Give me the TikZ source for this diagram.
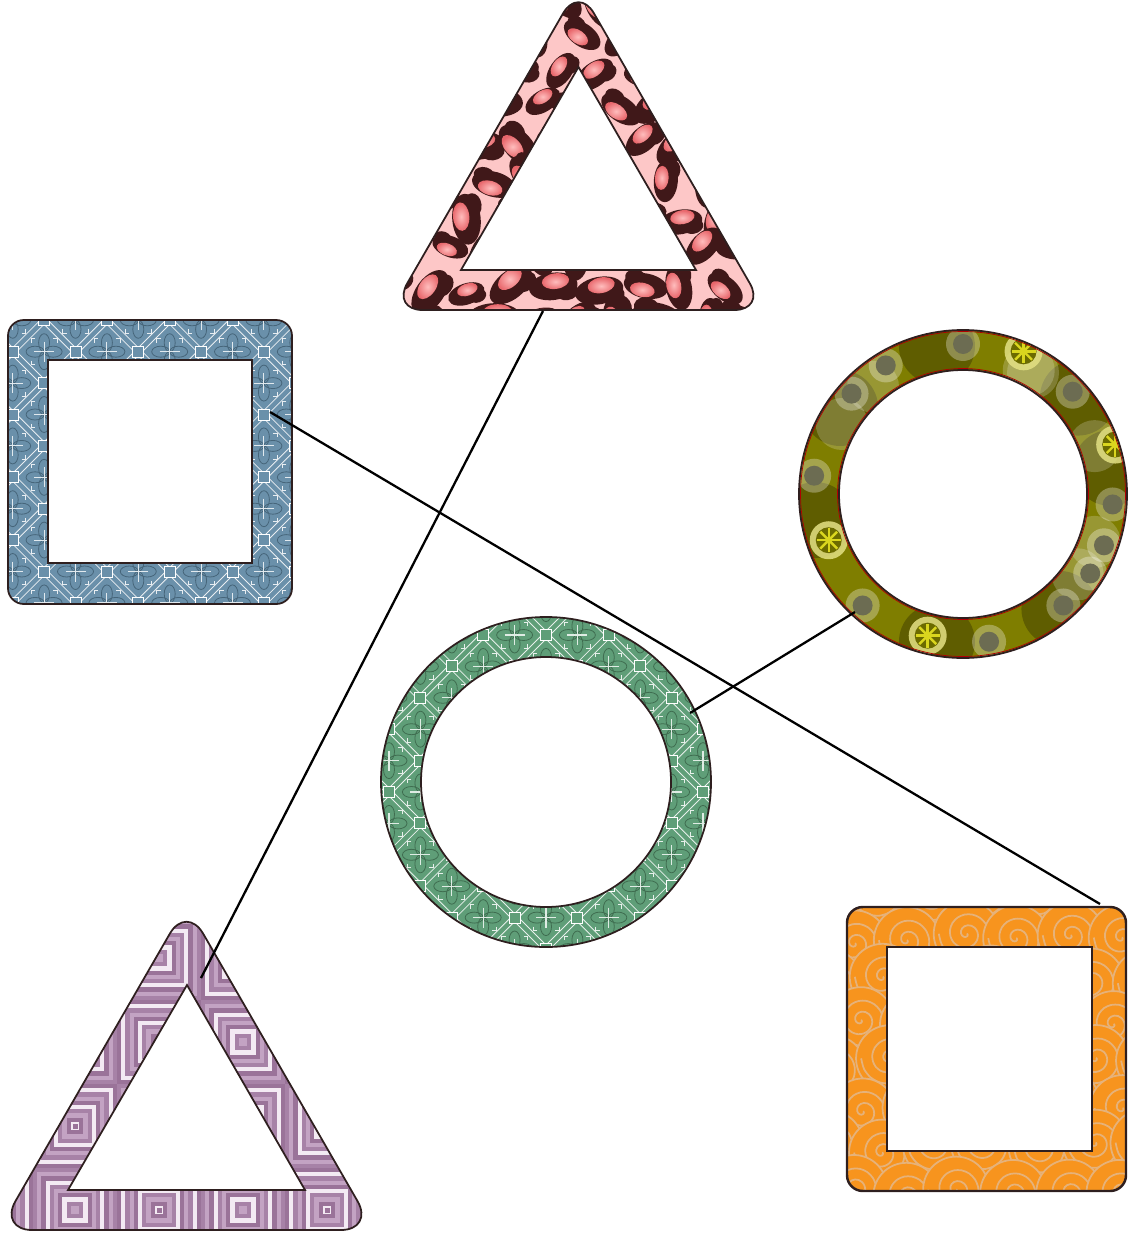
\documentclass[tikz,border=0pt]{standalone}
\usepackage{xcolor}
\usepackage{tikz}
\usetikzlibrary{positioning}

\definecolor{leopink}{HTML}{FDC7C7}
\definecolor{leodark}{HTML}{401819}
\definecolor{leored}{HTML}{E8666B}
\definecolor{leolight}{HTML}{FFBDBD}
\definecolor{slatebase}{HTML}{6A90AA}
\definecolor{slatedark}{HTML}{46657A}
\definecolor{jadebase}{HTML}{5F9E78}
\definecolor{jadedark}{HTML}{3F6D50}
\definecolor{olivebase}{HTML}{7F7E00}
\definecolor{olivedark}{HTML}{5F5D00}
\definecolor{olivegray}{HTML}{6C6C52}
\definecolor{wheelpale}{HTML}{E4E184}
\definecolor{wheelyel}{HTML}{DAD61E}
\definecolor{amberbase}{HTML}{F7941E}
\definecolor{ambercurl}{HTML}{E6B27A}
\definecolor{lilacmid}{HTML}{A782A7}
\definecolor{lilaclight}{HTML}{C3A3C3}
\definecolor{lilacdeep}{HTML}{9A7399}
\definecolor{lilacpale}{HTML}{F3EAF3}
\definecolor{rimline}{HTML}{2E1F1F}

% outlines of the six frames (pixel units, y down)
\def\leoouter{(485.2,148.3) -- (578.5,-13.4) -- (765.2,310) -- (391.8,310) -- cycle}
\def\leoinner{(578.5,67) -- (696,270) -- (461,270) -- cycle}
\def\lilacouter{(92.6,1067.4) -- (186.5,904.8) -- (374.2,1230) -- (-1.2,1230) -- cycle}
\def\lilacinner{(187,985) -- (305,1190) -- (68,1190) -- cycle}
\def\slateouter{(8,320) rectangle (292,604)}
\def\slateinner{(48,360) rectangle (252,563)}
\def\amberouter{(847,907) rectangle (1126,1191)}
\def\amberinner{(887,947) rectangle (1092,1151)}

\newcommand{\tilework}[6]{%
  \foreach \k in {-12,...,12}{
    \foreach \o in {-4,4}{
      \draw[white!85!tilebase, line width=0.45pt]
        ({#1+62.8*\k+\o-420},{#2-420}) -- ({#1+62.8*\k+\o+420},{#2+420})
        ({#1+62.8*\k+\o-420},{#2+420}) -- ({#1+62.8*\k+\o+420},{#2-420});
    }
  }
  \foreach \i in {#3,...,#4}{
    \foreach \j in {#5,...,#6}{
      \pgfmathsetmacro\tx{#1+31.4*\i}
      \pgfmathsetmacro\ty{#2+31.4*\j}
      \pgfmathtruncatemacro\pty{mod(\i+\j+100,2)}
      \ifnum\pty=1
        \begin{scope}[shift={(\tx,\ty)}]
          \draw[tiledark, line width=0.45pt] (9,0) ellipse [x radius=9, y radius=5.5] (-9,0) ellipse [x radius=9, y radius=5.5]
            (0,9) ellipse [x radius=5.5, y radius=9] (0,-9) ellipse [x radius=5.5, y radius=9];
          \draw[white!80!tilebase, line width=0.6pt] (-10,0) -- (10,0) (0,-10) -- (0,10);
          \foreach \r in {0,90,180,270}{
            \draw[white!85!tilebase, line width=0.4pt, rotate=\r] (9,13) -- (13,13) -- (13,9);
          }
        \end{scope}
      \else
        \draw[white, fill=tilebase, line width=0.5pt] ({\tx-5.5},{\ty-5.5}) rectangle ({\tx+5.5},{\ty+5.5});
      \fi
    }
  }
}

\newcommand{\greyspot}[2]{\begin{scope}[shift={(963,494)}, shift={(#1:#2)}]
  \fill[white, opacity=0.3] (0,0) circle [radius=17];
  \fill[olivegray] (0,0) circle [radius=10];
\end{scope}}
\newcommand{\wheel}[2]{\begin{scope}[shift={(963,494)}, shift={(#1:#2)}]
  \fill[wheelpale, opacity=0.85] (0,0) circle [radius=19];
  \fill[olivebase!85!black] (0,0) circle [radius=13];
  \foreach \w in {0,45,...,315}{\draw[wheelyel, line width=1.4pt] (0,0) -- (\w:12);}
  \fill[wheelyel] (0,0) circle [radius=3.5];
\end{scope}}

\begin{document}
\begin{tikzpicture}[x=0.02cm, y=-0.02cm,
    frame/.style={draw=rimline, line width=1pt},
    link/.style={draw=black, line width=1.3pt}]

\useasboundingbox (0,0) rectangle (1127,1233);

% leopard triangle
\begin{scope}
  \clip[rounded corners=17.5pt] \leoouter;
  \fill[leopink] (380,-20) rectangle (780,330);
  \pgfmathsetseed{11}
  \foreach \r in {0,...,9}{
    \foreach \c in {0,...,9}{
      \pgfmathsetmacro\bx{388+42*\c+21*mod(\r,2)+8*rand}
      \pgfmathsetmacro\by{36*\r+7*rand}
      \pgfmathsetmacro\ba{180*rnd}
      \pgfmathsetmacro\bs{0.75+0.35*rnd}
      \begin{scope}[shift={(\bx,\by)}, rotate=\ba, scale=\bs]
        \fill[leodark] (0,0) ellipse [x radius=25, y radius=14] (13,7) ellipse [x radius=12, y radius=9];
        \shade[inner color=leolight, outer color=leored] (3,-5) ellipse [x radius=14, y radius=8];
      \end{scope}
    }
  }
\end{scope}
\fill[white] \leoinner;
\draw[frame, rounded corners=17.5pt] \leoouter;
\draw[frame] \leoinner;

% slate square
\begin{scope}
  \clip[rounded corners=9pt] \slateouter;
  \colorlet{tilebase}{slatebase}\colorlet{tiledark}{slatedark}
  \fill[tilebase] (0,310) rectangle (300,610);
  \tilework{12.7}{351.7}{-1}{10}{-2}{9}
\end{scope}
\fill[white] \slateinner;
\draw[frame, rounded corners=9pt] \slateouter;
\draw[frame] \slateinner;

% olive ring
\begin{scope}
  \clip (963,494) circle [radius=164];
  \fill[olivebase] (790,320) rectangle (1135,670);
  \foreach \a in {-10,50,100,170,215,260,320}{
    \fill[olivedark] (963,494) ++(\a:150) circle [radius=38];
  }
  \foreach \a in {-62,-130,-150,20,35,300,340}{
    \fill[white, opacity=0.2] (963,494) ++(\a:140) circle [radius=26];
  }
  \foreach \a in {-90,-121,-138,-173,-228,-280,-312,-328,-340,-356,-43}{
    \greyspot{\a}{150}
  }
  \wheel{-67}{155}
  \wheel{-199}{142}
  \wheel{-256}{146}
  \wheel{-18}{160}
\end{scope}
\fill[white] (963,494) circle [radius=124];
\draw[red!70!black, line width=0.4pt] (963,494) circle [radius=162.5] (963,494) circle [radius=125.5];
\draw[frame] (963,494) circle [radius=164] (963,494) circle [radius=124];

% jade ring
\begin{scope}
  \clip (546,782) circle [radius=165];
  \colorlet{tilebase}{jadebase}\colorlet{tiledark}{jadedark}
  \fill[tilebase] (370,600) rectangle (720,960);
  \tilework{546}{635}{-6}{6}{-1}{10}
\end{scope}
\fill[white] (546,782) circle [radius=125];
\draw[frame] (546,782) circle [radius=165] (546,782) circle [radius=125];

% amber square
\begin{scope}
  \clip[rounded corners=9pt] \amberouter;
  \fill[amberbase] (840,900) rectangle (1130,1200);
  \pgfmathsetseed{5}
  \foreach \r in {0,...,7}{
    \foreach \c in {0,...,6}{
      \pgfmathsetmacro\sx{832+52*\c+26*mod(\r,2)+6*rand}
      \pgfmathsetmacro\sy{896+42*\r+6*rand}
      \fill[amberbase] (\sx,\sy) circle [radius=33];
      \draw[ambercurl, line width=1pt] (\sx,\sy) circle [radius=33];
      \draw[ambercurl, line width=1pt] plot[smooth, domain=0:900, samples=40, variable=\t]
        ({\sx+0.031*\t*cos(\t)},{\sy+0.031*\t*sin(\t)});
    }
  }
\end{scope}
\fill[white] \amberinner;
\draw[frame, line width=1.4pt, rounded corners=9pt] \amberouter;
\draw[frame, line width=1.4pt] \amberinner;

% lilac triangle
\begin{scope}
  \clip[rounded corners=19pt] \lilacouter;
  \foreach \i in {-1,...,4}{
    \foreach \j in {-1,...,4}{
      \pgfmathsetmacro\qx{75+84*\i}
      \pgfmathsetmacro\qy{1210-84*\j}
      \pgfmathtruncatemacro\pty{mod(\i+\j+100,2)}
      \foreach \k in {0,...,9}{
        \pgfmathsetmacro\hw{42-4.2*\k}
        \pgfmathtruncatemacro\ci{mod(\k+2*\pty,4)}
        \ifcase\ci\colorlet{sq}{lilacmid}\or\colorlet{sq}{lilaclight}\or\colorlet{sq}{lilacdeep}\or\colorlet{sq}{lilacpale}\fi
        \fill[sq] ({\qx-\hw},{\qy-\hw}) rectangle ({\qx+\hw},{\qy+\hw});
      }
      \ifnum\pty=1 \fill[lilacdeep] ({\qx-2.5},{\qy-2.5}) rectangle ({\qx+2.5},{\qy+2.5}); \fi
    }
  }
\end{scope}
\fill[white] \lilacinner;
\draw[frame, rounded corners=19pt] \lilacouter;
\draw[frame] \lilacinner;

\coordinate (leo-foot) at (543,311);
\coordinate (lilac-tip) at (201,978);
\coordinate (slate-side) at (270,412);
\coordinate (amber-corner) at (1100,904);
\coordinate (olive-rim) at (855,612);
\coordinate (jade-rim) at (690,713);

\draw[link] (leo-foot) -- (lilac-tip);
\draw[link] (slate-side) -- (amber-corner);
\draw[link] (olive-rim) -- (jade-rim);

\end{tikzpicture}
\end{document}
